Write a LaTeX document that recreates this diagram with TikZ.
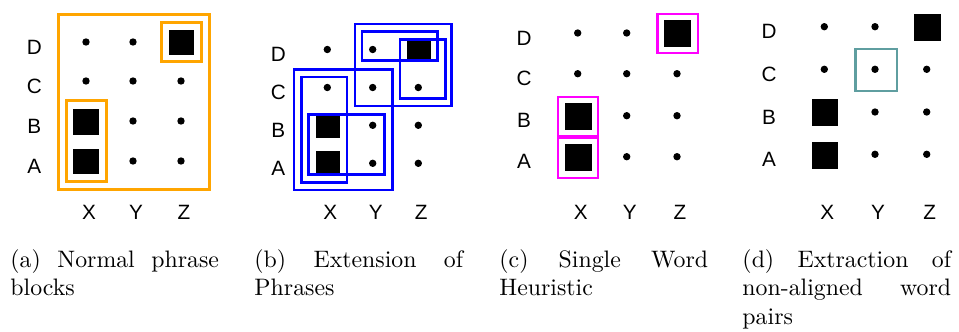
\documentclass[tikz,border=0pt]{standalone}
\usepackage{fontspec}
\newfontfamily\labelfont{Liberation Sans}

\definecolor{hlorange}{HTML}{FFA500}
\definecolor{hlblue}{HTML}{0000FF}
\definecolor{hlmagenta}{HTML}{FF00FF}
\definecolor{hlteal}{HTML}{5F9EA0}

% One alignment grid: #1 name prefix, #2-#4 x of columns X,Y,Z,
% #5-#8 y of rows D,C,B,A, #9 x of the row labels.
% Cells XB, XA and ZD hold aligned-word squares, drawn separately.
\newcommand{\wordgrid}[9]{%
  \foreach \c/\cx in {X/#2,Y/#3,Z/#4}
    \node[axislabel] (#1-lab\c) at (\cx+3,212.7) {\c};
  \foreach \r/\ry in {D/#5,C/#6,B/#7,A/#8}
    \node[axislabel] (#1-lab\r) at (#9,\ry+5) {\r};
  \foreach \r/\ry in {D/#5,C/#6}
    \node[gridpt] (#1-X\r) at (#2,\ry) {};
  \foreach \r/\ry in {D/#5,C/#6,B/#7,A/#8}
    \node[gridpt] (#1-Y\r) at (#3,\ry) {};
  \foreach \r/\ry in {C/#6,B/#7,A/#8}
    \node[gridpt] (#1-Z\r) at (#4,\ry) {};
}

\begin{document}
\begin{tikzpicture}[x=0.42pt,y=-0.42pt,
  gridpt/.style={circle,fill=black,inner sep=0pt,minimum size=3.1pt},
  alnsq/.style={rectangle,fill=black,inner sep=0pt,minimum size=#1},
  axislabel/.style={inner sep=0pt,font=\labelfont\fontsize{8.7}{10}\selectfont},
  hlbox/.style={draw=#1,line width=1.2pt},
  extbox/.style={draw=hlblue,line width=1.1pt},
  subcap/.style={anchor=base west,inner sep=0pt,font=\fontsize{10}{12}\selectfont}]

\useasboundingbox (0,0) rectangle (959,331);

% (a) normal phrase blocks
\wordgrid{a}{86}{133}{181}{42}{81}{121}{161}{34.3}
\node[alnsq=10.8pt] (a-XB) at (86,121.7) {};
\node[alnsq=10.8pt] (a-XA) at (86,161.5) {};
\node[alnsq=10.8pt] (a-ZD) at (181.5,42.5) {};
\draw[hlbox=hlorange] (58.7,14.7) rectangle (209.3,189.5);
\draw[hlbox=hlorange] (161.2,22.5) rectangle (201.5,61.8);
\draw[hlbox=hlorange] (66.2,100.8) rectangle (106.5,181.2);

% (b) extension of phrases
\wordgrid{b}{327.3}{372.7}{418.3}{49.5}{87.5}{125.3}{163.3}{278.3}
\node[alnsq=10.2pt,minimum height=9.4pt] (b-XB) at (327.8,126.8) {};
\node[alnsq=10.2pt,minimum height=9.4pt] (b-XA) at (327.8,162.5) {};
\node[alnsq=10.2pt,minimum height=9.4pt] (b-ZD) at (419.2,50.3) {};
\draw[extbox] (294,69.3) rectangle (392.7,190);
\draw[extbox] (301.3,77) rectangle (347,182.7);
\draw[extbox] (308.7,114.7) rectangle (384.3,174.3);
\draw[extbox] (355,24) rectangle (451.7,106);
\draw[extbox] (362,31.7) rectangle (437.7,60.7);
\draw[extbox] (400,39.3) rectangle (445.3,98.7);

% (c) single word heuristic
\wordgrid{c}{577.7}{626.7}{677}{33}{73.7}{115.7}{156.7}{524}
\node[alnsq=11.1pt] (c-XB) at (578.3,116.3) {};
\node[alnsq=11.1pt] (c-XA) at (578.3,157.5) {};
\node[alnsq=11.1pt] (c-ZD) at (677.7,33.7) {};
\draw[hlbox=hlmagenta] (657.3,14) rectangle (698,53);
\draw[hlbox=hlmagenta] (558,97) rectangle (598,136.6);
\draw[hlbox=hlmagenta] (558,137.4) rectangle (598,178);

% (d) extraction of non-aligned word pairs
\wordgrid{d}{824.3}{875}{926.7}{26.7}{69.3}{112}{154.3}{769}
\node[alnsq=11.2pt] (d-XB) at (825,112.7) {};
\node[alnsq=11.2pt] (d-XA) at (825,155.8) {};
\node[alnsq=11.2pt] (d-ZD) at (927.5,27.5) {};
\draw[hlbox=hlteal] (855.2,49) rectangle (897,91);

% sub-captions
\node[subcap] (capa) at (10,267.3) {\parbox[t]{87.6pt}{(a) Normal phrase\linebreak blocks}};
\node[subcap] (capb) at (254,267.3) {\parbox[t]{87.6pt}{(b) Extension of\linebreak Phrases}};
\node[subcap] (capc) at (499,267.3) {\parbox[t]{87.6pt}{(c) Single Word\linebreak Heuristic}};
\node[subcap] (capd) at (742,267.3) {\parbox[t]{87.6pt}{(d) Extraction of\linebreak non-aligned word\linebreak pairs}};
\end{tikzpicture}
\end{document}
